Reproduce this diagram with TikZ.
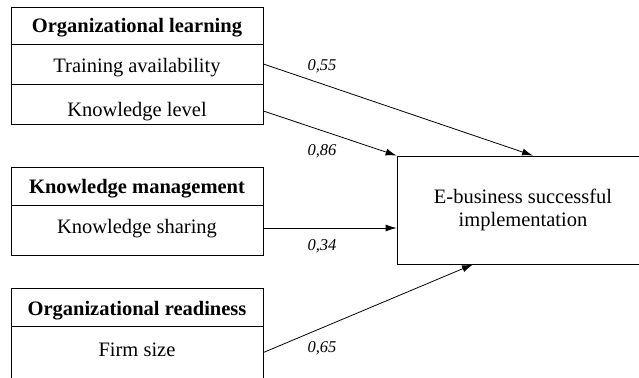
\documentclass[tikz,border=0pt]{standalone}
\usepackage{fontspec}
\setmainfont{Liberation Serif}
\usetikzlibrary{arrows.meta}

\begin{document}
\begin{tikzpicture}[x=1pt,y=-1pt,
  cell/.style={draw,line width=0.8pt,minimum width=252pt,inner sep=0pt,anchor=base,
    font=\fontsize{20.5}{23}\selectfont},
  coef/.style={font=\fontsize{16.5}{19}\selectfont\itshape},
  effect/.style={-{Latex[length=11pt,width=7pt]},line width=0.8pt}]
\useasboundingbox (0,0) rectangle (639,377);
\clip (0,0) rectangle (639,377);
% factor groups
\node[cell,text height=26pt,text depth=11pt] (ol) at (137,33) {\bfseries Organizational learning};
\node[cell,text height=29pt,text depth=11pt] (ta) at (137,73) {Training availability};
\node[cell,text height=33pt,text depth=7pt] (kl) at (137,117) {Knowledge level};
\node[cell,text height=26pt,text depth=12pt] (km) at (137,193) {\bfseries Knowledge management};
\node[cell,text height=28pt,text depth=22pt] (ks) at (137,233) {Knowledge sharing};
\node[cell,text height=27pt,text depth=11pt] (or) at (137,315) {\bfseries Organizational readiness};
\node[cell,text height=30pt,text depth=39pt] (fs) at (137,356) {Firm size};
% outcome
\node[draw,line width=0.8pt,minimum width=252pt,minimum height=108pt,align=center,
  font=\fontsize{20.5}{23}\selectfont] (res) at (523,210) {E-business successful\\implementation};
% paths
\draw[effect] (ta.east) -- ([xshift=10pt]res.north);
\draw[effect] ([yshift=-7pt]kl.east) -- (res.north west);
\draw[effect] ([yshift=2pt]ks.east) -- ([yshift=2pt]ks.east -| res.west);
\draw[effect] ([yshift=8pt]fs.east) -- ([xshift=-50pt]res.south);
\node[coef] (c55) at (322,66) {0,55};
\node[coef] (c86) at (322,151) {0,86};
\node[coef] (c34) at (322,246) {0,34};
\node[coef] (c65) at (322,348) {0,65};
\end{tikzpicture}
\end{document}
